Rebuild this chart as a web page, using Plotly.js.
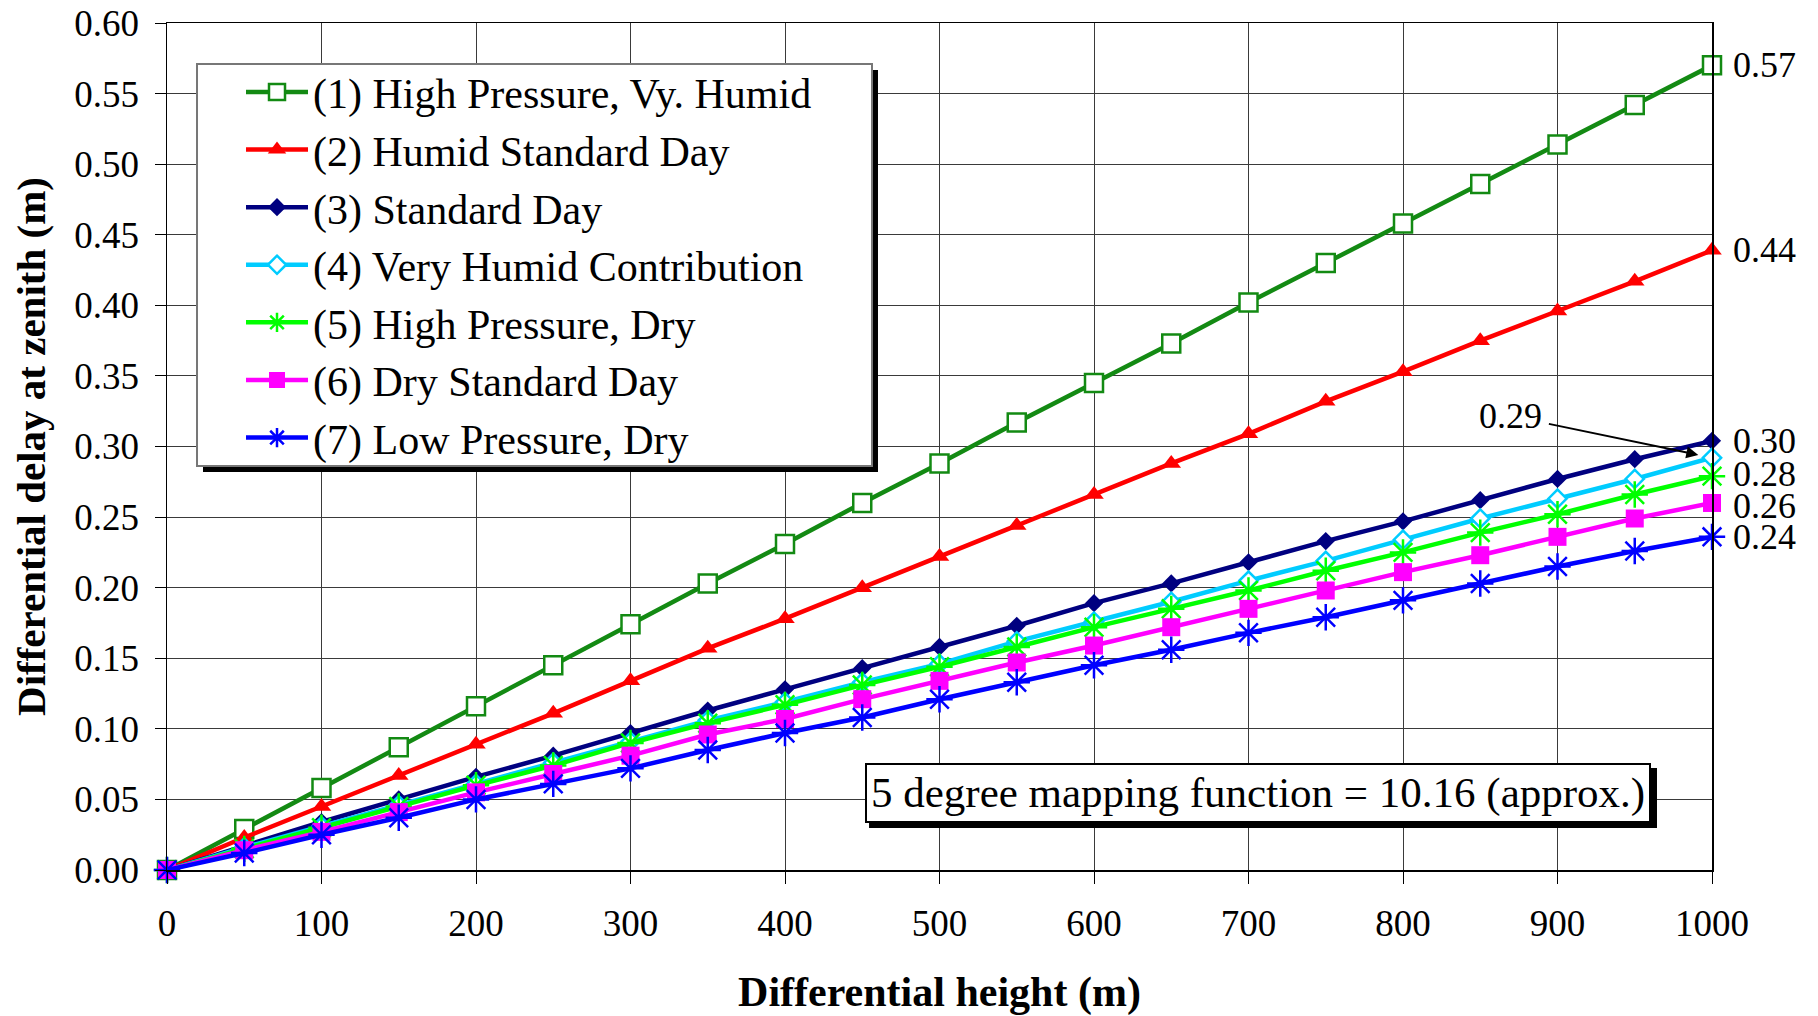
<!DOCTYPE html>
<html>
<head>
<meta charset="utf-8">
<script src="https://cdn.plot.ly/plotly-3.0.1.min.js"></script>
<style>html,body{margin:0;padding:0;background:#fff;}#chart{width:1818px;height:1016px;}</style>
</head>
<body>
<div id="chart"></div>
<script>
// Differential height (m)
const heights = [0,50,100,150,200,250,300,350,400,450,500,550,600,650,700,750,800,850,900,950,1000];

const seriesNames = [
  "(1) High Pressure, Vy. Humid",
  "(2) Humid Standard Day",
  "(3) Standard Day",
  "(4) Very Humid Contribution",
  "(5) High Pressure, Dry",
  "(6) Dry Standard Day",
  "(7) Low Pressure, Dry"
];

// Differential delay at zenith (m)
const highPressureVyHumid = [0,0.029,0.058,0.087,0.116,0.145,0.174,0.203,0.231,0.260,0.288,0.317,0.345,0.373,0.402,0.430,0.458,0.486,0.514,0.542,0.570];
const humidStandardDay    = [0,0.023,0.045,0.067,0.089,0.111,0.134,0.157,0.178,0.200,0.222,0.244,0.266,0.288,0.309,0.332,0.353,0.375,0.396,0.417,0.439];
const standardDay         = [0,0.017,0.034,0.050,0.066,0.081,0.097,0.113,0.128,0.143,0.158,0.173,0.189,0.203,0.218,0.233,0.247,0.262,0.277,0.291,0.304];
const veryHumidContrib    = [0,0.016,0.031,0.046,0.061,0.076,0.091,0.106,0.119,0.133,0.146,0.162,0.176,0.190,0.205,0.219,0.234,0.249,0.263,0.277,0.292];
const highPressureDry     = [0,0.015,0.030,0.045,0.060,0.074,0.090,0.104,0.117,0.131,0.144,0.158,0.172,0.185,0.198,0.212,0.225,0.239,0.252,0.266,0.279];
const dryStandardDay      = [0,0.014,0.027,0.041,0.055,0.068,0.081,0.096,0.107,0.121,0.134,0.147,0.159,0.172,0.185,0.198,0.211,0.223,0.236,0.249,0.260];
const lowPressureDry      = [0,0.012,0.025,0.037,0.050,0.061,0.072,0.085,0.097,0.108,0.121,0.133,0.145,0.156,0.168,0.179,0.191,0.203,0.215,0.226,0.236];

const allSeries = [highPressureVyHumid, humidStandardDay, standardDay, veryHumidContrib, highPressureDry, dryStandardDay, lowPressureDry];

// End-of-line labels (series index -> label)
const endLabelSeries = [0,1,2,4,5,6];
const endLabelTexts  = ["0.57","0.44","0.30","0.28","0.26","0.24"];
const arrowLabelSeries = 3;
const arrowLabelText = "0.29";

const noteText = "5 degree mapping function = 10.16 (approx.)";

const FONT = "Liberation Serif, Times New Roman, serif";

// styling (not data)
const labelNudge = [0, 0, 0, 2, -3, 0];

const styles = [
  {color:"#138a13", symbol:"square", size:18, fill:"#ffffff", lw:2.5},
  {color:"#ff0000", symbol:"triangle-up", size:17, fill:"#ff0000", lw:0},
  {color:"#000080", symbol:"diamond", size:14, fill:"#000080", lw:0},
  {color:"#00ccff", symbol:"diamond", size:14, fill:"#ffffff", lw:2.5},
  {color:"#00ff00", symbol:"asterisk", size:22, fill:"#00ff00", lw:2.5},
  {color:"#ff00ff", symbol:"square", size:18, fill:"#ff00ff", lw:0},
  {color:"#0000ff", symbol:"asterisk", size:22, fill:"#0000ff", lw:2.5}
];

const traces = allSeries.map((ys, i) => ({
  type: "scatter",
  mode: "lines+markers",
  name: seriesNames[i],
  x: heights,
  y: ys,
  line: {color: styles[i].color, width: 4.5},
  marker: {
    symbol: styles[i].symbol,
    size: styles[i].size,
    color: styles[i].fill,
    line: {color: styles[i].color, width: styles[i].lw}
  },
  cliponaxis: false
}));

const last = heights.length - 1;
const annotations = endLabelSeries.map((si, k) => ({
  x: heights[last], y: allSeries[si][last],
  xref: "x", yref: "y",
  text: endLabelTexts[k],
  showarrow: false,
  xanchor: "left", yanchor: "middle",
  xshift: 19, yshift: labelNudge[k],
  font: {family: FONT, size: 36, color: "#000"}
}));

annotations.push({
  x: heights[last], y: allSeries[arrowLabelSeries][last],
  xref: "x", yref: "y",
  text: arrowLabelText,
  showarrow: true,
  arrowhead: 2, arrowsize: 1.2, arrowwidth: 2, arrowcolor: "#000",
  standoff: 14, startstandoff: 6,
  ax: -202, ay: -42,
  font: {family: FONT, size: 36, color: "#000"}
});

annotations.push({
  x: 0.7061, y: 0.0909, xref: "paper", yref: "paper",
  xanchor: "center", yanchor: "middle",
  text: noteText, showarrow: false,
  bgcolor: "#ffffff", bordercolor: "#000", borderwidth: 2, borderpad: 4,
  font: {family: FONT, size: 43, color: "#000"}
});

const layout = {
  width: 1818, height: 1016,
  margin: {l: 167, r: 106, t: 23, b: 146},
  paper_bgcolor: "#fff", plot_bgcolor: "#fff",
  font: {family: FONT, color: "#000"},
  showlegend: true,
  legend: {
    x: 0.0479, y: 0.9585, xanchor: "left", yanchor: "top",
    bgcolor: "rgba(0,0,0,0)", borderwidth: 0,
    font: {family: FONT, size: 42, color: "#000"},
    itemwidth: 62
  },
  xaxis: {
    range: [0, 1000], dtick: 100, tick0: 0,
    showgrid: true, gridcolor: "#3a3a3a", gridwidth: 1,
    showline: true, linecolor: "#000", linewidth: 1.5, mirror: true,
    ticks: "outside", ticklen: 12, tickcolor: "#000", tickwidth: 1,
    ticklabelstandoff: 8,
    tickfont: {family: FONT, size: 37, color: "#000"},
    zeroline: false,
    title: {text: "Differential height (m)", standoff: 44, font: {family: FONT, size: 42, color: "#000", weight: 700}},
    automargin: false
  },
  yaxis: {
    range: [0, 0.6], dtick: 0.05, tick0: 0, tickformat: ".2f",
    showgrid: true, gridcolor: "#3a3a3a", gridwidth: 1,
    showline: true, linecolor: "#000", linewidth: 1.5, mirror: true,
    ticks: "outside", ticklen: 11, tickcolor: "#000", tickwidth: 1,
    ticklabelstandoff: 8,
    tickfont: {family: FONT, size: 37, color: "#000"},
    zeroline: false,
    title: {text: "Differential delay at zenith (m)", standoff: 16, font: {family: FONT, size: 41, color: "#000", weight: 700}},
    automargin: false
  },
  annotations: annotations,
  shapes: [
    // legend box shadow and box
    {type: "rect", xref: "paper", yref: "paper", x0: 0.0233, x1: 0.46019, y0: 0.46989, y1: 0.94451, fillcolor: "#000", line: {width: 0}, layer: "above"},
    {type: "rect", xref: "paper", yref: "paper", x0: 0.01942, x1: 0.45631, y0: 0.47698, y1: 0.95159, fillcolor: "#fff", line: {color: "#777", width: 2}, layer: "above"},
    // note box shadow
    {type: "rect", xref: "paper", yref: "paper", x0: 0.4544, x1: 0.9644, y0: 0.0496, y1: 0.1204, fillcolor: "#000", line: {width: 0}, layer: "above"}
  ]
};

Plotly.newPlot("chart", traces, layout, {displayModeBar: false, staticPlot: true});
</script>
</body>
</html>
